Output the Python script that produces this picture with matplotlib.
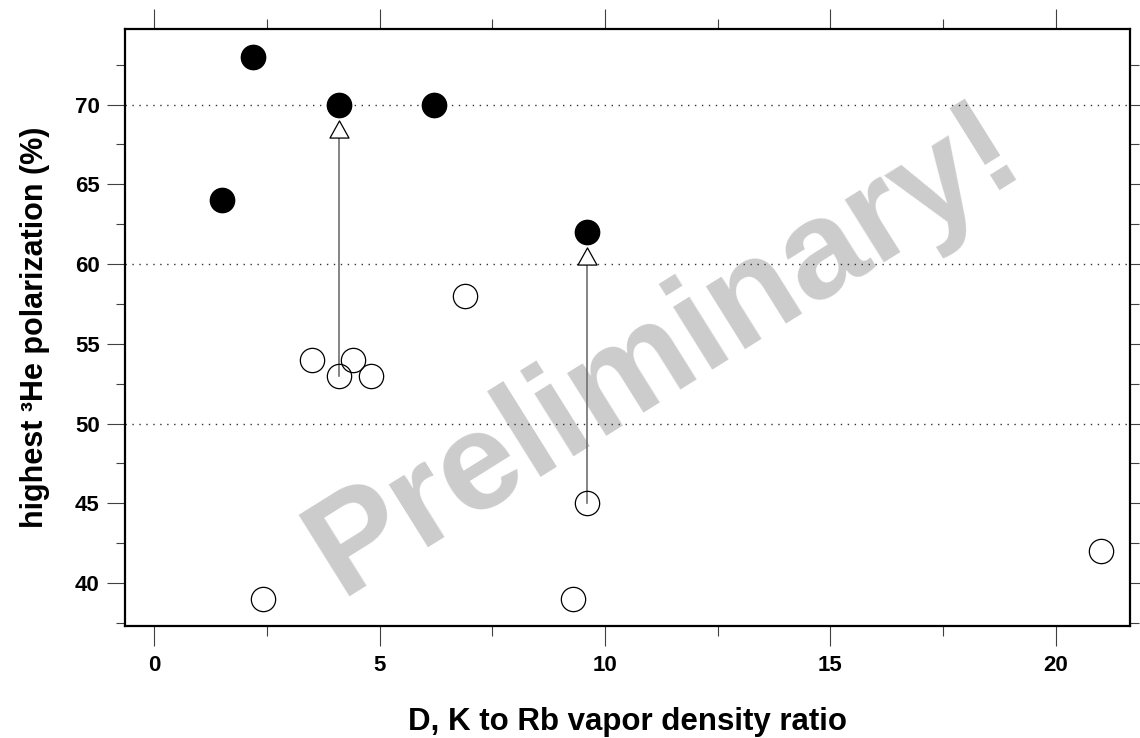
import numpy as np
import matplotlib
matplotlib.use("Agg")
import matplotlib.pyplot as plt
from matplotlib.ticker import MultipleLocator
from matplotlib.path import Path

plt.rcParams['font.family'] = ['Liberation Sans', 'DejaVu Sans']

# best results (filled) and earlier results (open)
best_x = [1.5, 2.2, 4.1, 6.2, 9.6]
best_y = [64, 73, 70, 70, 62]
open_x = [2.4, 3.5, 4.1, 4.4, 4.8, 6.9, 9.3, 9.6, 21.0]
open_y = [39, 54, 53, 54, 53, 58, 39, 45, 42]

# improvement arrows: x, start, tip
arrow_x = [4.1, 9.6]
arrow_from = [53, 45]
arrow_to = [69, 61]

grid_y = [50, 60, 70]

fig = plt.figure(figsize=(11.4, 7.38), dpi=100)
ax = fig.add_axes([0.1099, 0.1514, 0.9912 - 0.1099, 0.9603 - 0.1514])

ax.set_xlim(-0.645, 21.65)
ax.set_ylim(37.29, 74.72)

for g in grid_y:
    ax.axhline(g, color='#333333', lw=1.0, ls=(0, (1, 4)), zorder=1)

# watermark
ax.text(11.75, 52.6, "Preliminary!", fontsize=101, fontweight='bold',
        color='#cccccc', rotation=32, ha='center', va='baseline',
        rotation_mode='anchor', zorder=0.5)

# arrows: gray stem + open triangle head
tri = Path([(-1, -0.9), (1, -0.9), (0, 0.9), (-1, -0.9)],
           [Path.MOVETO, Path.LINETO, Path.LINETO, Path.CLOSEPOLY])
for x, y0, y1 in zip(arrow_x, arrow_from, arrow_to):
    ax.plot([x, x], [y0, y1 - 1], color='#707070', lw=1.2, zorder=2)
    ax.plot([x], [y1 - 0.5], marker=tri, ms=13.7, mfc='white', mec='black',
            mew=0.9, zorder=3)

ax.plot(open_x, open_y, 'o', ms=17.5, mfc='none', mec='black', mew=0.9,
        zorder=4)
ax.plot(best_x, best_y, 'o', ms=17.5, mfc='black', mec='black', zorder=5)

ax.xaxis.set_major_locator(MultipleLocator(5))
ax.xaxis.set_minor_locator(MultipleLocator(2.5))
ax.yaxis.set_major_locator(MultipleLocator(5))
ax.yaxis.set_minor_locator(MultipleLocator(2.5))

ax.tick_params(axis='both', which='both', direction='out', top=True,
               right=True, color='#404040', width=0.8)
ax.tick_params(axis='x', which='major', length=14.4, pad=6.5)
ax.tick_params(axis='x', which='minor', length=7.2)
ax.tick_params(axis='y', which='major', length=13, pad=5.5)
ax.tick_params(axis='y', which='minor', length=6.5)
for lab in ax.get_xticklabels() + ax.get_yticklabels():
    lab.set_fontweight('bold')
    lab.set_fontsize(16)

for s in ax.spines.values():
    s.set_linewidth(1.6)

ax.set_xlabel("D, K to Rb vapor density ratio", fontsize=22.5,
              fontweight='bold', labelpad=22)
ax.set_ylabel("highest ³He polarization (%)", fontsize=22,
              fontweight='bold', labelpad=18)

fig.savefig("out.png", dpi=100)
